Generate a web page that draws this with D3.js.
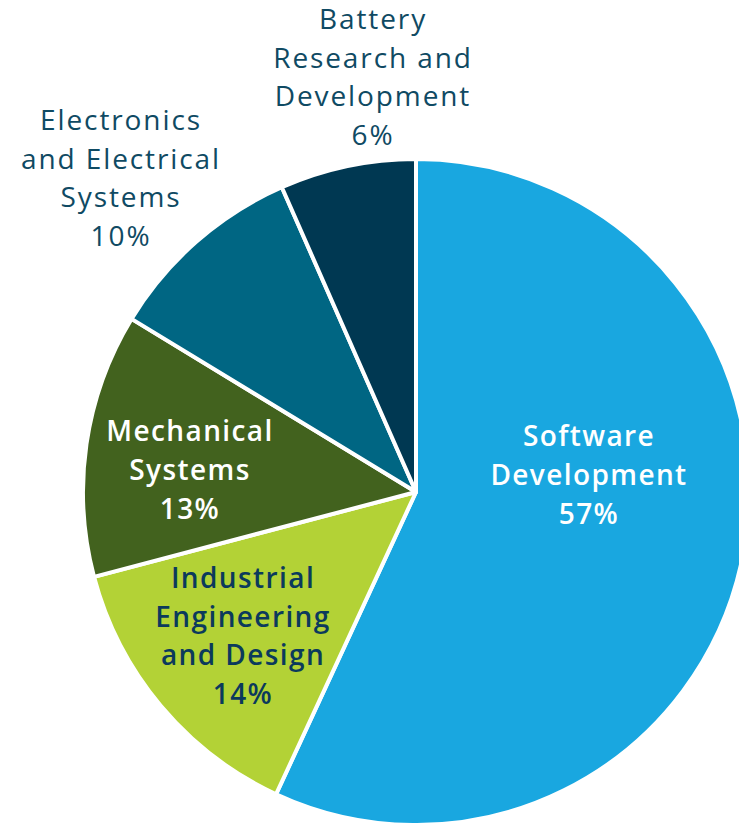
<!DOCTYPE html>
<html lang="en">
<head>
  <meta charset="UTF-8" />
  <title>Engineering Share Pie</title>
  <script src="https://d3js.org/d3.v7.min.js"></script>
  <style>
    body {
      margin: 0;
      padding: 0;
      background: white;
      overflow: hidden;
    }
    svg {
      display: block;
    }
  </style>
</head>
<body>
  <svg id="chart" width="739" height="823"></svg>

  <script>
    const categories = [
      "Software Development",
      "Industrial Engineering and Design",
      "Mechanical Systems",
      "Electronics and Electrical Systems",
      "Battery Research and Development"
    ];
    const shares = [56.9, 14.0, 12.8, 9.7, 6.6];
    const shareLabels = ["57%", "14%", "13%", "10%", "6%"];
    const colors = ["#19a7e0", "#b3d236", "#42621e", "#006683", "#003852"];

    // label lines per slice (name part; the percentage is appended)
    const labelLines = [
      ["Software", "Development"],
      ["Industrial", "Engineering", "and Design"],
      ["Mechanical", "Systems"],
      ["Electronics", "and Electrical", "Systems"],
      ["Battery", "Research and", "Development"]
    ];
    const labelColors = ["white", "#0b3a5c", "white", "#0f4a63", "#0f4a63"];
    const labelWeights = [600, 600, 600, 400, 400];
    // offsets of label centre from the pie centre
    const labelOffsets = [[173, -17], [-173, 144], [-226, -22], [-295, -314], [-43, -415]];

    const width = 739, height = 823;
    const cx = 416, cy = 492, radius = 333;
    const lineH = 38.8;

    const svg = d3.select("#chart");
    const g = svg.append("g").attr("transform", `translate(${cx},${cy})`);

    const data = categories.map((c, i) => ({ name: c, value: shares[i], i }));

    const pie = d3.pie()
      .sort(null)
      .value(d => d.value);

    const arc = d3.arc()
      .innerRadius(0)
      .outerRadius(radius);

    g.selectAll("path")
      .data(pie(data))
      .enter()
      .append("path")
      .attr("d", arc)
      .attr("fill", d => colors[d.data.i])
      .attr("stroke", "white")
      .attr("stroke-width", 4)
      .attr("stroke-linejoin", "round");

    const labels = g.selectAll("text.lbl")
      .data(data)
      .enter()
      .append("text")
      .attr("class", "lbl")
      .attr("text-anchor", "middle")
      .attr("fill", d => labelColors[d.i])
      .style("font-family", "'Open Sans', Lato, sans-serif")
      .style("font-size", "28px")
      .style("letter-spacing", d => labelWeights[d.i] > 500 ? "1.4px" : "1.9px")
      .style("font-weight", d => labelWeights[d.i]);

    labels.each(function(d) {
      const lines = labelLines[d.i].concat([shareLabels[d.i]]);
      const [ox, oy] = labelOffsets[d.i];
      const top = oy - (lines.length - 1) * lineH / 2;
      d3.select(this).selectAll("tspan")
        .data(lines)
        .enter()
        .append("tspan")
        .attr("x", ox)
        .attr("y", (l, k) => top + k * lineH)
        .attr("dy", "0.36em")
        .text(l => l);
    });
  </script>
</body>
</html>
